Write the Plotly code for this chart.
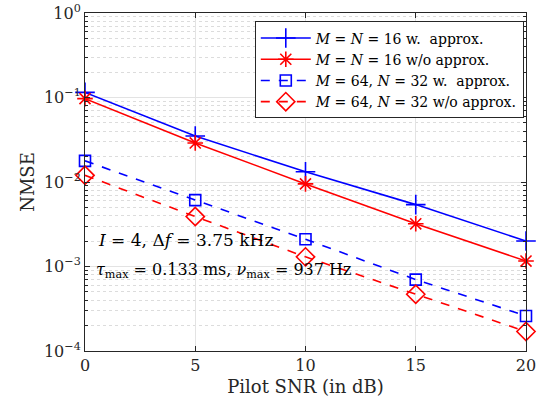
import plotly.graph_objects as go

snr = [0, 5, 10, 15, 20]
nmse_16_w = [0.115, 0.035, 0.0132, 0.0054, 0.0020]
nmse_16_wo = [0.097, 0.029, 0.0095, 0.0032, 0.00116]
nmse_64_w = [0.0178, 0.0061, 0.0021, 0.0007, 0.00026]
nmse_64_wo = [0.012, 0.0039, 0.0013, 0.00047, 0.00017]

names = [
    "<i>M</i> = <i>N</i> = 16 w.  approx.",
    "<i>M</i> = <i>N</i> = 16 w/o approx.",
    "<i>M</i> = 64, <i>N</i> = 32 w.  approx.",
    "<i>M</i> = 64, <i>N</i> = 32 w/o approx.",
]
ytickvals = [1e-4, 1e-3, 1e-2, 1e-1, 1]
yticktext = ["10<sup>−4</sup>", "10<sup>−3</sup>", "10<sup>−2</sup>", "10<sup>−1</sup>", "10<sup>0</sup>"]
yminorvals = [m * d for d in [1e-4, 1e-3, 1e-2, 1e-1] for m in range(2, 10)]

FONT = "DejaVu Serif"
NB = "\u00a0"
fig = go.Figure()
specs = [
    (nmse_16_w, "#0000FF", "solid", "cross-thin-open", 14),
    (nmse_16_wo, "#FF0000", "solid", "asterisk-open", 13),
    (nmse_64_w, "#0000FF", "dash", "square-open", 11),
    (nmse_64_wo, "#FF0000", "dash", "diamond-open", 14),
]
for (vals, col, dash, sym, sz), nm in zip(specs, names):
    fig.add_trace(go.Scatter(
        x=snr, y=vals, name=nm, mode="lines+markers", cliponaxis=False,
        line=dict(color=col, width=1.6, dash=dash),
        marker=dict(symbol=sym, size=sz, color=col, line=dict(color=col, width=1.6)),
    ))

axis_common = dict(
    showline=True, linecolor="#262626", linewidth=1, mirror="allticks",
    ticks="inside", tickcolor="#262626", ticklen=5,
    gridcolor="#e3e3e3", gridwidth=1, zeroline=False,
    tickfont=dict(family=FONT, size=16, color="#262626"),
    ticklabeloverflow="allow", automargin=False,
)
fig.update_xaxes(
    range=[0, 20], tickvals=snr, **axis_common,
    title=dict(text="Pilot SNR (in dB)", font=dict(family=FONT, size=18, color="#262626"), standoff=6),
)
fig.update_yaxes(
    type="log", range=[-4, 0], tickvals=ytickvals, ticktext=yticktext, **axis_common,
    minor=dict(tickmode="array", tickvals=yminorvals, showgrid=True, gridcolor="#dcdcdc",
               griddash="dot", ticks="inside", ticklen=3, tickcolor="#262626"),
    title=dict(text="NMSE", font=dict(family=FONT, size=18, color="#262626"), standoff=4),
)
fig.add_annotation(
    xref="paper", yref="paper", x=0.025, y=0.328, xanchor="left", yanchor="middle", showarrow=False,
    text=f"<i>I</i>{NB}={NB}4,{NB}Δ<i>f</i>{NB}={NB}3.75{NB}kHz",
    font=dict(family=FONT, size=17, color="black"),
)
fig.add_annotation(
    xref="paper", yref="paper", x=0.02, y=0.237, xanchor="left", yanchor="middle", showarrow=False,
    text="<i>τ</i><sub>max</sub> = 0.133 ms, <i>ν</i><sub>max</sub> = 937 Hz",
    font=dict(family=FONT, size=16, color="black"),
)
fig.update_layout(
    width=542, height=411,
    margin=dict(l=85, r=16, t=13, b=60),
    paper_bgcolor="white", plot_bgcolor="white",
    font=dict(family=FONT, color="#262626"),
    legend=dict(
        x=0.995, y=0.975, xanchor="right", yanchor="top",
        bgcolor="white", bordercolor="#262626", borderwidth=1,
        font=dict(family=FONT, size=14, color="black"),
        tracegroupgap=0, itemwidth=50,
    ),
)
fig.write_html("out.html", config={"displayModeBar": False},
               post_script="document.body.style.margin='0';document.body.style.overflow='hidden';")
